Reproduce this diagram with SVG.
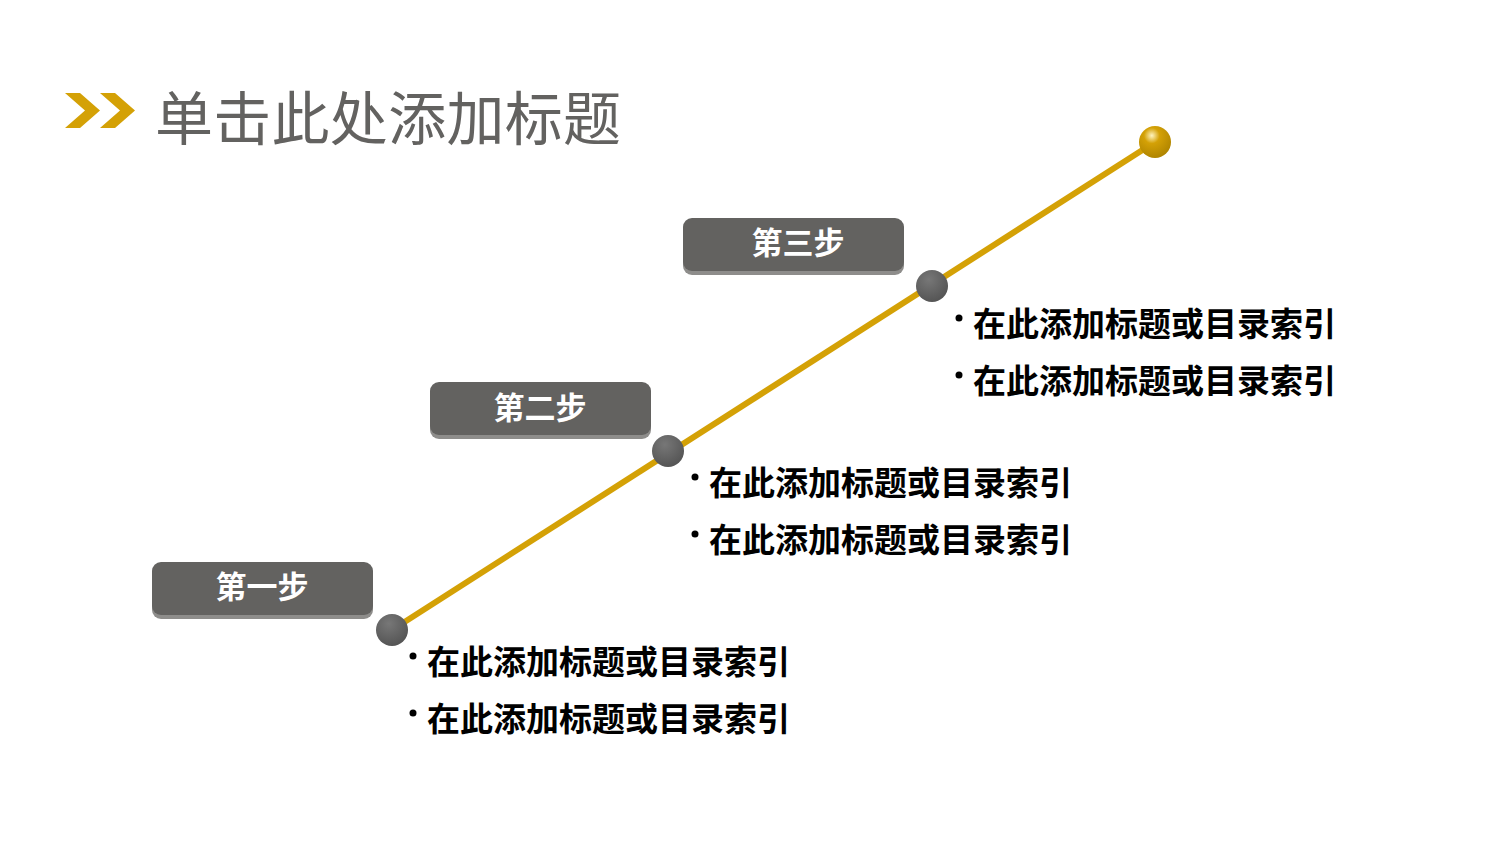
<svg xmlns="http://www.w3.org/2000/svg" width="1500" height="844" viewBox="0 0 1500 844">
<style>
.lbl{font-family:"Noto Sans CJK SC",sans-serif;font-weight:bold;font-size:31px;fill:#fff;text-anchor:middle}
.it{font-family:"Noto Sans CJK SC",sans-serif;font-weight:bold;font-size:33px;fill:#000}
.b{fill:#000}
.box{fill:#636260}
.sh{fill:#8e8d8b}
</style>
<defs>
<radialGradient id="g" cx="0.4" cy="0.3" r="0.7"><stop offset="0" stop-color="#fff4c0"/><stop offset="0.35" stop-color="#d4a106"/><stop offset="1" stop-color="#b08500"/></radialGradient>
<radialGradient id="gd" cx="0.4" cy="0.3" r="0.7"><stop offset="0" stop-color="#777"/><stop offset="1" stop-color="#555"/></radialGradient>
</defs>
<rect width="1500" height="844" fill="#fff"/>
<g id="title">
<polygon points="65,93 80,93 100,110.5 80,128 65,128 85,110.5" fill="#d4a106"/>
<polygon points="100,93 115,93 135,110.5 115,128 100,128 120,110.5" fill="#d4a106"/>
<text x="155" y="140" font-family="Noto Sans CJK SC,sans-serif" font-size="58" fill="#636260" textLength="466">单击此处添加标题</text>
</g>
<g id="connectors"><line x1="392" y1="630" x2="1155" y2="142" stroke="#d4a106" stroke-width="6"/></g>
<g id="end"><circle cx="1155" cy="142" r="16" fill="url(#g)"/></g>
<g id="step1"><rect class="sh" x="152" y="565" width="221" height="54" rx="9"/><rect class="box" x="152" y="562" width="221" height="53" rx="9"/><text class="lbl" x="262" y="598">第一步</text>
<circle cx="392" cy="630" r="16" fill="url(#gd)"/>
<circle class="b" cx="413" cy="656" r="3.5"/><text class="it" x="427" y="674" textLength="363">在此添加标题或目录索引</text>
<circle class="b" cx="413" cy="713" r="3.5"/><text class="it" x="427" y="731" textLength="363">在此添加标题或目录索引</text></g>
<g id="step2"><rect class="sh" x="430" y="385" width="221" height="54" rx="9"/><rect class="box" x="430" y="382" width="221" height="53" rx="9"/><text class="lbl" x="540" y="419">第二步</text>
<circle cx="668" cy="451" r="16" fill="url(#gd)"/>
<circle class="b" cx="695" cy="477" r="3.5"/><text class="it" x="709" y="495" textLength="363">在此添加标题或目录索引</text>
<circle class="b" cx="695" cy="534" r="3.5"/><text class="it" x="709" y="552" textLength="363">在此添加标题或目录索引</text></g>
<g id="step3"><rect class="sh" x="683" y="221" width="221" height="54" rx="9"/><rect class="box" x="683" y="218" width="221" height="53" rx="9"/><text class="lbl" x="798" y="254">第三步</text>
<circle cx="932" cy="286" r="16" fill="url(#gd)"/>
<circle class="b" cx="959" cy="318" r="3.5"/><text class="it" x="973" y="336" textLength="363">在此添加标题或目录索引</text>
<circle class="b" cx="959" cy="375" r="3.5"/><text class="it" x="973" y="393" textLength="363">在此添加标题或目录索引</text></g>
</svg>
